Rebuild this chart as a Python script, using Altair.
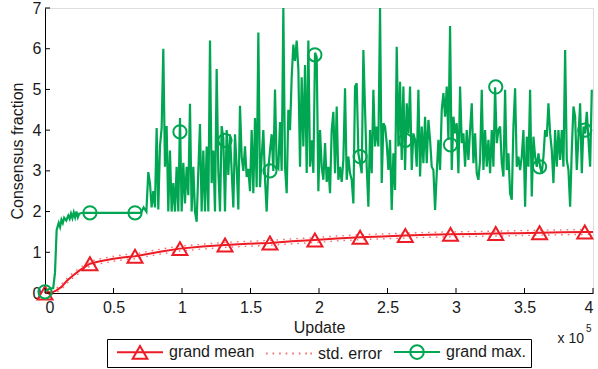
import altair as alt
import numpy as np
import pandas as pd

# ---------------- data ----------------
# grand max. : slow start (update count, value)
max_start_x = [0, 3000, 6000, 7300, 8500, 10000, 11000, 12000, 13000, 14000, 15500,
               17000, 18000, 19000, 20000, 21000, 22000, 23000, 24000, 25000, 27500,
               70000, 72000, 74000]
max_start_y = [0.05, 0.1, 0.12, 0.5, 1.55, 1.72, 1.62, 1.8, 1.72, 1.85, 1.78,
               1.9, 1.82, 1.95, 1.84, 1.98, 1.86, 2.0, 1.86, 1.95, 1.97,
               1.97, 2.1, 2.0]

# grand max. : noisy part, sampled every ~1217 updates from 75400
noisy_first_update = 75400
noisy_step = 1217
max_a = [2.97, 2.7, 2.1, 2.5, 2.1, 4.05, 2.05, 3.6, 4.05, 6.0, 3.1, 4.1, 2.0, 3.5, 2.0,
         2.7, 2.0, 3.1, 2.0, 4.3, 2.0, 3.2, 2.2, 3.1, 2.4, 4.65, 2.0, 3.1, 2.0, 1.75,
         3.0, 4.15, 2.0, 3.5, 2.0, 3.6, 2.0, 6.2, 2.7, 3.5, 2.0, 5.5, 3.0, 2.0, 4.1,
         3.8, 2.0, 4.0, 2.9]
max_b = [3.9, 3.0, 2.1, 3.9, 3.1, 2.05, 4.6, 3.35, 3.0, 3.6, 2.85, 3.05, 2.5, 4.0, 2.45,
         4.3, 2.6, 6.4, 2.6, 3.35, 4.0, 2.8, 2.0, 3.05, 3.5, 3.9, 3.0, 5.0, 3.1, 3.05,
         4.2, 3.0, 7.0, 3.1, 2.45, 4.5, 4.0, 5.3, 6.1, 5.7, 6.2, 5.5, 3.1, 5.3, 3.6,
         5.6, 2.95, 6.2, 3.1, 3.75, 2.95, 5.9, 5.8, 2.5]
max_c = [4.0, 3.1, 2.78, 3.68, 2.73, 3.1, 2.45, 4.0, 4.45, 2.94, 4.58, 2.78, 3.1, 2.73,
         3.27, 5.03, 2.78, 3.35, 2.94, 2.78, 2.2, 5.07, 5.15, 3.43, 3.19, 2.94, 5.97,
         4.5, 3.1, 2.12, 4.0, 2.94, 4.99, 3.6, 4.09, 3.6, 7.0, 2.7, 4.17, 4.09, 3.68,
         3.02, 3.76, 2.04, 3.43, 2.53, 6.05, 3.6, 5.19, 3.27, 5.07, 3.02, 4.66, 3.92]
max_d = [5.07, 3.02, 3.92, 3.76, 3.1, 4.99, 2.86, 4.09, 3.19, 4.33, 3.19, 4.25, 3.76,
         3.1, 3.02, 2.04, 2.94, 3.76, 3.02, 4.5, 4.91, 4.33, 5.07, 3.76, 6.56, 3.02,
         4.33, 3.92, 4.17, 2.94, 5.07, 3.68, 3.92, 3.1, 4.0, 3.27, 4.0, 4.66, 3.19,
         3.92, 2.94, 2.78, 3.27, 4.99, 3.02, 4.0, 3.1, 3.76, 2.94, 4.0, 3.1, 5.05,
         3.68, 4.0]
max_e = [4.09, 3.19, 2.86, 4.99, 3.02, 3.43, 2.45, 2.29, 4.09, 5.03, 3.1, 3.35, 3.02,
         3.35, 4.0, 2.12, 3.84, 3.1, 4.99, 2.37, 3.84, 3.35, 3.1, 3.43, 3.1, 2.94,
         3.35, 4.0, 3.84, 4.66, 3.92, 3.51, 2.7, 4.0, 3.1, 4.0, 3.27, 4.0, 3.1, 5.97,
         3.27, 3.02, 2.12, 3.51, 4.58, 4.33, 3.02, 3.84, 4.66, 2.94, 4.09, 3.92, 4.45,
         3.76, 3.1, 4.99]

# grand mean and its standard error
mean_x = [0, 2000, 5000, 8000, 12000, 16000, 20000, 25000, 32800, 40000, 50000, 58000,
          65700, 75000, 85000, 98500, 115000, 131400, 148000, 164200, 180000, 197000,
          213000, 230000, 246000, 263000, 280000, 296000, 312000, 329000, 345000,
          361000, 378000, 394000, 400000]
mean_y = [0, 0.02, 0.01, 0.06, 0.15, 0.3, 0.42, 0.55, 0.72, 0.78, 0.84, 0.88,
          0.9, 0.96, 1.02, 1.09, 1.14, 1.18, 1.21, 1.23, 1.27, 1.3,
          1.34, 1.37, 1.39, 1.41, 1.43, 1.44, 1.45, 1.46, 1.47,
          1.48, 1.49, 1.5, 1.5]
mean_se = [0, 0.04, 0.05, 0.05, 0.06, 0.06, 0.06, 0.06, 0.06, 0.06, 0.06, 0.06,
           0.06, 0.06, 0.06, 0.06, 0.06, 0.06, 0.06, 0.06, 0.06, 0.06,
           0.06, 0.06, 0.06, 0.06, 0.06, 0.06, 0.06, 0.06, 0.06,
           0.06, 0.06, 0.06, 0.06]

# marker positions
marker_x = [0, 32800, 65700, 98500, 131400, 164200, 197000, 230000, 263000, 296000,
            329000, 361000, 394000]
tri_y = [0, 0.72, 0.9, 1.09, 1.18, 1.23, 1.3, 1.37, 1.41, 1.44, 1.46, 1.48, 1.5]
circ_y = [0.03, 1.97, 1.97, 3.96, 3.75, 3.0, 5.85, 3.35, 3.75, 3.64, 5.06, 3.1, 4.0]

x_ticks = [0, 50000, 100000, 150000, 200000, 250000, 300000, 350000, 400000]
y_ticks = [0, 1, 2, 3, 4, 5, 6, 7]
series_names = ["grand mean", "std. error", "grand max."]

# ---------------- frames ----------------
noisy = max_a + max_b + max_c + max_d + max_e
noisy_x = [noisy_first_update + noisy_step * i for i in range(len(noisy))]
max_df = pd.DataFrame({"update": max_start_x + noisy_x, "value": max_start_y + noisy})
mean_df = pd.DataFrame({"update": mean_x, "value": mean_y,
                        "lo": np.array(mean_y) - np.array(mean_se),
                        "hi": np.array(mean_y) + np.array(mean_se)})
tri_df = pd.DataFrame({"update": marker_x, "value": tri_y})
circ_df = pd.DataFrame({"update": marker_x, "value": circ_y})
xt_df = pd.DataFrame({"update": x_ticks})
yt_df = pd.DataFrame({"value": y_ticks})
leg_df = pd.DataFrame({"series": series_names})

# ---------------- style ----------------
W, H = 548, 285
FONT = "Liberation Sans"
RED = "#ed1c24"
RED_LIGHT = "#f47070"
GREEN = "#00a651"

xs = alt.Scale(domain=[0, 400000], nice=False, zero=False)
ys = alt.Scale(domain=[0, 7], nice=False)

x_axis = alt.Axis(values=x_ticks, labelExpr="datum.value / 100000", ticks=False,
                  grid=False, domainColor="black", domainWidth=1,
                  labelFont=FONT, labelFontSize=16, labelColor="#1a1a1a", labelPadding=6,
                  title="Update", titleFont=FONT, titleFontSize=16,
                  titleFontWeight="normal", titleColor="#1a1a1a", titlePadding=4)
y_axis = alt.Axis(values=y_ticks, ticks=False, grid=False, domainColor="black",
                  domainWidth=1, labelFont=FONT, labelFontSize=16, labelColor="#1a1a1a",
                  labelPadding=4, title="Consensus fraction", titleFont=FONT,
                  titleFontSize=16, titleFontWeight="normal", titleColor="#1a1a1a",
                  titlePadding=7)

X = alt.X("update:Q", scale=xs, axis=x_axis)
Y = alt.Y("value:Q", scale=ys, axis=y_axis)

se_lo = alt.Chart(mean_df).mark_line(color=RED_LIGHT, strokeWidth=1.4,
                                     strokeDash=[1.6, 5]).encode(
    x=X, y=alt.Y("lo:Q", scale=ys, axis=y_axis))
se_hi = alt.Chart(mean_df).mark_line(color=RED_LIGHT, strokeWidth=1.4,
                                     strokeDash=[1.6, 5]).encode(
    x=X, y=alt.Y("hi:Q", scale=ys, axis=y_axis))
mean_line = alt.Chart(mean_df).mark_line(color=RED, strokeWidth=2).encode(x=X, y=Y)
tri = alt.Chart(tri_df).mark_point(shape="triangle-up", size=225, filled=False,
                                   strokeWidth=2, color=RED, opacity=1).encode(x=X, y=Y)
max_line = alt.Chart(max_df).mark_line(color=GREEN, strokeWidth=2.2, clip=True).encode(x=X, y=Y)
circ = alt.Chart(circ_df).mark_point(shape="circle", size=175, filled=False,
                                     strokeWidth=2, color=GREEN, opacity=1).encode(x=X, y=Y)

x_tick_marks = alt.Chart(xt_df).mark_rule(color="black", strokeWidth=1).encode(
    x=X, y=alt.value(H), y2=alt.value(H - 5))
y_tick_marks = alt.Chart(yt_df).mark_rule(color="black", strokeWidth=1).encode(
    y=Y, x=alt.value(0), x2=alt.value(5))

# legend symbols: line with marker (unit = 8 px)
path_mean = "M-2.875,0L2.875,0M-0.92,0.8L0,-0.8L0.92,0.8Z"
path_se = ("M-2.875,0L-2.675,0M-2.055,0L-1.855,0M-1.235,0L-1.035,0M-0.415,0L-0.215,0"
           "M0.405,0L0.605,0M1.225,0L1.425,0M2.045,0L2.245,0M2.665,0L2.865,0")
path_max = "M-2.875,0L2.875,0M0.85,0A0.85,0.85,0,1,1,-0.85,0A0.85,0.85,0,1,1,0.85,0"

leg = alt.Legend(title=None, orient="none", legendX=62, legendY=331,
                 direction="horizontal", strokeColor="black", fillColor="white",
                 padding=4, symbolOffset=20, labelOffset=20, columnPadding=5,
                 labelFont=FONT, labelFontSize=16, labelColor="#1a1a1a", labelLimit=300,
                 symbolSize=256, symbolStrokeWidth=2, symbolOpacity=1)
legend_layer = alt.Chart(leg_df).mark_point(filled=False, strokeWidth=2, clip=True).encode(
    color=alt.Color("series:N", scale=alt.Scale(domain=series_names,
                                                range=[RED, RED_LIGHT, GREEN]), legend=leg),
    shape=alt.Shape("series:N", scale=alt.Scale(domain=series_names,
                                                range=[path_mean, path_se, path_max]),
                    legend=leg),
    x=alt.value(-200), y=alt.value(-200))

exp_base = alt.Chart(pd.DataFrame({"t": ["x 10"]})).mark_text(
    font=FONT, fontSize=14, color="#1a1a1a", align="right", baseline="alphabetic").encode(
    text="t:N", x=alt.value(539), y=alt.value(335))
exp_sup = alt.Chart(pd.DataFrame({"t": ["5"]})).mark_text(
    font=FONT, fontSize=10, color="#1a1a1a", align="left", baseline="alphabetic").encode(
    text="t:N", x=alt.value(541), y=alt.value(324))

chart = alt.layer(
    mean_line, se_lo, se_hi, tri, max_line, circ, x_tick_marks, y_tick_marks,
    legend_layer, exp_base, exp_sup
).properties(
    width=W, height=H,
    padding={"left": 45, "top": 8, "right": 5, "bottom": 76},
    autosize=alt.AutoSizeParams(type="none"),
).configure_view(strokeWidth=0).configure(background="white")

chart.save("out.html", embed_options={"renderer": "svg", "actions": False})
